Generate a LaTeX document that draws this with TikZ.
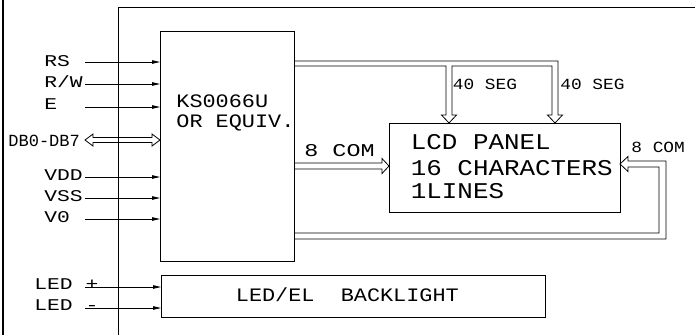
\documentclass[tikz,border=0pt]{standalone}
\usepackage{fontspec}
\usetikzlibrary{arrows.meta}
\newfontfamily\cadA[FakeStretch=1.3]{Liberation Mono}
\newfontfamily\cadB[FakeStretch=1.15]{Liberation Mono}
\newfontfamily\cadC{Liberation Mono}
\begin{document}
\begin{tikzpicture}[x=1pt,y=-1pt,line width=0.8pt,line join=miter,
  sig/.style={-{Triangle[length=8pt,width=3.5pt]}},
  box/.style={draw,rectangle,inner sep=0pt,anchor=north west},
  txt/.style={anchor=base west,inner sep=0pt},
  lbl/.style={txt,font=\cadA\fontsize{16.4}{18}\selectfont},
  big/.style={txt,font=\cadB\fontsize{22.5}{24}\selectfont},
  mid/.style={txt,font=\cadB\fontsize{19}{20}\selectfont},
  sml/.style={txt,font=\cadB\fontsize{15.5}{17}\selectfont}]
\useasboundingbox (0,0) rectangle (695,335);
% frame
\draw[line width=2.5pt] (3,0) -- (3,335);
\draw (695,7) -- (118,7) -- (118,335);
% boxes
\node[box,minimum width=134pt,minimum height=230pt] (ks) at (160,31) {};
\node[box,minimum width=231pt,minimum height=89pt] (lcd) at (389,123) {};
\node[box,minimum width=384pt,minimum height=42pt] (bl) at (161,275) {};
% box texts
\node[mid] (t1) at (176,107) {KS0066U};
\node[mid] (t2) at (176,127.5) {OR EQUIV.};
\node[big] (t3) at (410.5,149) {LCD PANEL};
\node[big] (t4) at (410.5,175) {16 CHARACTERS};
\node[big] (t5) at (410.5,198) {1LINES};
\node[mid] (t6) at (235.5,301.5) {LED/EL\ \ BACKLIGHT};
% signal labels
\node[lbl] (lrs) at (44,66) {RS};
\node[lbl] (lrw) at (44,87) {R/W};
\node[lbl] (le) at (44,109) {E};
\node[txt,font=\cadC\fontsize{17}{18}\selectfont] (ldb) at (8,146) {DB0-DB7};
\node[lbl] (lvdd) at (44,180) {VDD};
\node[lbl] (lvss) at (44,201.5) {VSS};
\node[lbl] (lv0) at (44,222) {V0};
\node[lbl] (lledp) at (34,289) {LED +};
\node[lbl] (lledm) at (34,310.5) {LED -};
% signal arrows
\foreach \n/\y in {rs/62,rw/84,e/107,vdd/177,vss/198,vz/219}{
  \coordinate (\n) at (85,\y);
  \draw[sig] (\n) -- (\n -| ks.west);
}
\foreach \n/\y in {lp/287,lm/308}{
  \coordinate (\n) at (85,\y);
  \draw[sig] (\n) -- (\n -| bl.west);
}
% DB bus
\draw (93,137.5) -- (152,137.5) -- (152,134) -- (160,140) -- (152,146) -- (152,142.5)
  -- (93,142.5) -- (93,146) -- (85,140) -- (93,134) -- cycle;
% 40 SEG buses
\draw (294,61) -- (558,61) -- (558,115) -- (562.5,115) -- (555,123) -- (547.5,115)
  -- (552,115) -- (552,66) -- (452,66) -- (452,115) -- (456.5,115) -- (449,123)
  -- (441.5,115) -- (446,115) -- (446,66) -- (294,66);
\node[sml] (s1) at (452.5,89) {40 SEG};
\node[sml] (s2) at (560,89) {40 SEG};
% 8 COM middle
\draw (294,163) -- (382,163) -- (382,158.5) -- (389,166) -- (382,173.5) -- (382,169) -- (294,169);
\node[txt,font=\cadA\fontsize{18}{19}\selectfont] (c1) at (304,156.5) {8 COM};
% 8 COM right loop
\draw (294,239) -- (666,239) -- (666,161) -- (628,161) -- (628,156.5) -- (620,164)
  -- (628,171.5) -- (628,167) -- (659,167) -- (659,233) -- (294,233);
\node[sml] (c2) at (631,152.5) {8 COM};
\end{tikzpicture}
\end{document}
